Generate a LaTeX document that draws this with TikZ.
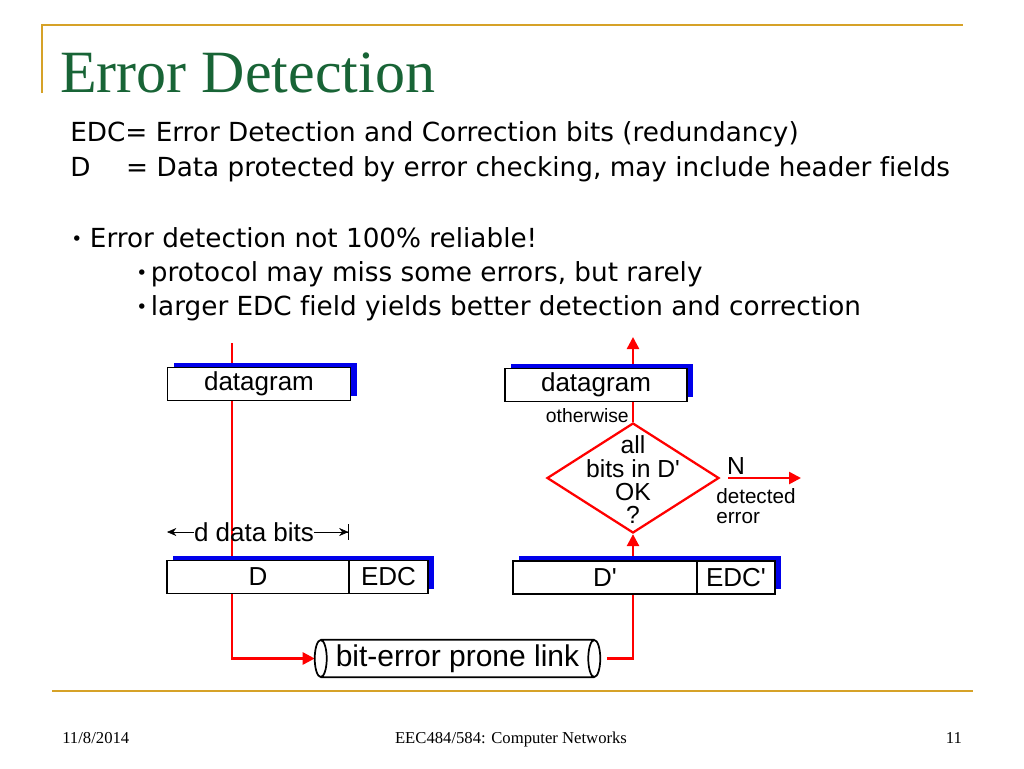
\documentclass[tikz,border=0pt]{standalone}
\usepackage{fontspec}
\setmainfont{Liberation Serif}
\setsansfont{Liberation Sans}[Ligatures=TeXOff]
\newfontfamily\bodyfont{DejaVu Sans}[Ligatures=CommonOff]
\usetikzlibrary{positioning,shapes.geometric,shadows,arrows.meta,backgrounds}
\definecolor{ttlgreen}{RGB}{24,100,54}
\definecolor{gold}{RGB}{214,162,40}
\definecolor{shadowblue}{RGB}{0,0,235}
\tikzset{
  pkt/.style={draw, line width=1.4pt, fill=white, minimum height=24.75pt, inner sep=0pt, outer sep=0pt,
    font=\sffamily\fontsize{19.5}{19.5}\selectfont,
    general shadow={fill=shadowblue, shadow xshift=4.5pt, shadow yshift=3.75pt}},
  flow/.style={red, line width=1.9pt},
  flowarr/.style={flow, -{Triangle[length=9pt,width=9pt]}},
  body/.style={anchor=base west, inner sep=0pt, font=\bodyfont\fontsize{19.7}{22}\selectfont},
  lbl/.style={inner sep=0pt, font=\sffamily\fontsize{#1}{#1}\selectfont},
}
\newcommand{\bul}{\raisebox{1.5pt}{\fontsize{14}{14}\selectfont •}}
\begin{document}
\begin{tikzpicture}[x=0.75pt,y=-0.75pt,>={Stealth[length=7pt,width=6pt]}]
\useasboundingbox (0,0) rectangle (1024,768);
% slide frame
\draw[gold, line width=1.5pt] (42,93) -- (42,25) -- (963,25);
\draw[gold, line width=2pt] (52,691) -- (973,691);
\node[anchor=base west, inner sep=0pt, text=ttlgreen, font=\fontsize{45}{45}\selectfont] (title) at (60,92) {Error Detection};
% text lines
\node[body] (l1) at (70,141) {EDC= Error Detection and Correction bits (redundancy)};
\node[body] (l2) at (70,176) {\makebox[42pt][l]{D}= Data protected by error checking, may include header fields};
\node[body] (l3) at (71,247) {\makebox[14pt][l]{\bul}Error detection not 100\% reliable!};
\node[body] (l4) at (136,281) {\makebox[11pt][l]{\bul}protocol may miss some errors, but rarely};
\node[body] (l5) at (136,315) {\makebox[11pt][l]{\bul}larger EDC field yields better detection and correction};
% sender
\node[pkt, minimum width=137.25pt] (dg1) at (259,384) {datagram};
\node[pkt, minimum width=136.5pt] (D) at (258,577) {D};
\node[pkt, minimum width=59.25pt, right=0pt of D] (EDC) {EDC};
\node[lbl=19.5] (dbits) at (254,532) {d data bits};
\draw[->] (dbits.west) -- (dbits -| D.west);
\draw[-{>Bar[width=12pt]}] (dbits.east) -- (dbits -| D.east);
% receiver
\node[pkt, minimum width=136.5pt] (dg2) at (596,385) {datagram};
\node[pkt, minimum width=138pt] (Dp) at (605,577.5) {D'};
\node[pkt, minimum width=58.5pt, right=0pt of Dp] (EDCp) {EDC'};
\node[draw=red, line width=1.7pt, diamond, minimum width=129pt, minimum height=82.5pt, inner sep=0pt] (dia) at (633,478) {};
\node[lbl=18, align=center, font=\sffamily\fontsize{18.5}{17.5}\selectfont] (ask) at (633,480) {all\\bits in D'\\OK\\?};
\node[lbl=14.5, anchor=east] (else) at (629,416) {otherwise};
\node[lbl=18.5] (n) at (736,466) {N};
\node[lbl=15.5, anchor=north west, align=left, font=\sffamily\fontsize{15.5}{15}\selectfont] (det) at (716,488) {detected\\error};
% link
\node[lbl=22.5, minimum width=204.75pt, minimum height=27.75pt] (link) at (457.5,658.5) {bit-error prone link};
\draw[line width=1.3pt] (link.north west) -- (link.north east) (link.south west) -- (link.south east)
  (link.west) ellipse (6 and 18.5) (link.east) ellipse (6 and 18.5);
\coordinate (src) at (232,343);
\coordinate (sink) at (633,337);
\coordinate (nout) at (801,478);
\draw[flowarr] ([xshift=6pt]dia.east) -- (nout);
\begin{scope}[on background layer]
\draw[flowarr] (src) |- ([xshift=-4.5pt]link.west);
\draw[flowarr] ([xshift=9.75pt]link.east) -| (dia.south);
\draw[flowarr] (dia.north) -- (sink);
\end{scope}
% footer
\node[anchor=base west, inner sep=0pt, font=\fontsize{12.5}{12.5}\selectfont] (date) at (62,743) {11/8/2014};
\node[anchor=base, inner sep=0pt, font=\fontsize{12.5}{12.5}\selectfont] (course) at (511,743) {EEC484/584: Computer Networks};
\node[anchor=base, inner sep=0pt, font=\fontsize{12.5}{12.5}\selectfont] (page) at (954,743) {11};
\end{tikzpicture}
\end{document}
